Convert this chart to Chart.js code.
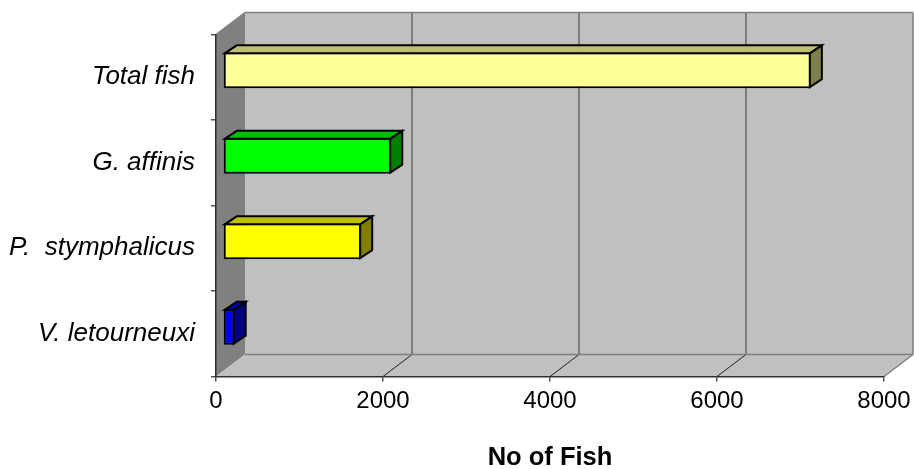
<!DOCTYPE html>
<html>
<head>
<meta charset="utf-8">
<style>
  html, body { margin: 0; padding: 0; background: #ffffff; }
  canvas { display: block; }
</style>
<script src="https://cdn.jsdelivr.net/npm/chart.js@4/dist/chart.umd.min.js"></script>
</head>
<body>
<canvas id="fishChart" width="914" height="469"></canvas>
<script>
const categories = ['Total fish', 'G. affinis', 'P.  stymphalicus', 'V. letourneuxi'];
const fishCounts = [7040, 2015, 1655, 140];
const xTickValues = [0, 2000, 4000, 6000, 8000];

const frontColors = ['#FFFF99', '#00FF00', '#FFFF00', '#0000FF'];
const topColors = ['#BFBF73', '#00BF00', '#BFBF00', '#0000BF'];
const sideColors = ['#80804D', '#008000', '#808000', '#000080'];

// depth of the box behind the front plane, and of each bar
const WALL_DX = 29;
const WALL_DY = 22;
const BAR_SHIFT_X = 7;
const BAR_SHIFT_Y = -7;
const BAR_DX = 12;
const BAR_DY = 8;
const BAR_LINE = 2;

function poly(ctx, pts, fill, stroke, lineWidth) {
    ctx.beginPath();
    pts.forEach((p, i) => i ? ctx.lineTo(p[0], p[1]) : ctx.moveTo(p[0], p[1]));
    ctx.closePath();
    if (fill) {
        ctx.fillStyle = fill;
        ctx.fill();
    }
    if (stroke) {
        ctx.strokeStyle = stroke;
        ctx.lineWidth = lineWidth;
        ctx.stroke();
    }
}

function line(ctx, x1, y1, x2, y2, color, width) {
    ctx.beginPath();
    ctx.moveTo(x1, y1);
    ctx.lineTo(x2, y2);
    ctx.strokeStyle = color;
    ctx.lineWidth = width;
    ctx.stroke();
}

// back wall, side wall and floor of the box
const boxPlugin = {
    id: 'box',
    beforeDraw(chart) {
        const { ctx, scales } = chart;
        const l = scales.x.left, r = scales.x.right, t = scales.y.top, b = scales.y.bottom;
        const dx = WALL_DX, dy = WALL_DY;
        ctx.save();
        poly(ctx, [[l + dx, t - dy], [r + dx, t - dy], [r + dx, b - dy], [l + dx, b - dy]], '#C0C0C0');
        poly(ctx, [[l, t], [l + dx, t - dy], [l + dx, b - dy], [l, b]], '#808080');
        poly(ctx, [[l, b], [l + dx, b - dy], [r + dx, b - dy], [r, b]], '#C0C0C0');

        xTickValues.forEach((v, i) => {
            const x = scales.x.getPixelForValue(v);
            if (i > 0 && i < xTickValues.length - 1) {
                line(ctx, x + dx, t - dy, x + dx, b - dy, '#666666', 1.5);
                line(ctx, x, b, x + dx, b - dy, '#202020', 1);
            }
        });
        // outer edges of the box
        line(ctx, l, t, l + dx, t - dy, '#808080', 1.5);
        line(ctx, l + dx, t - dy, r + dx, t - dy, '#808080', 1.5);
        line(ctx, r + dx, t - dy, r + dx, b - dy, '#808080', 1.5);
        line(ctx, l + dx, b - dy, r + dx, b - dy, '#808080', 1.5);
        line(ctx, r, b, r + dx, b - dy, '#808080', 1.5);
        ctx.restore();
    }
};

// bars sit a little behind the front plane, with a top and a side face
const barDepthPlugin = {
    id: 'barDepth',
    beforeDatasetDraw(chart) {
        chart.ctx.save();
        chart.ctx.translate(BAR_SHIFT_X, BAR_SHIFT_Y);
    },
    afterDatasetDraw(chart, args) {
        const ctx = chart.ctx;
        const inset = BAR_LINE / 2;
        ctx.lineJoin = 'miter';
        args.meta.data.forEach((bar, i) => {
            const x0 = bar.base + inset, x1 = bar.x - inset;
            const y0 = bar.y - bar.height / 2 + inset, y1 = bar.y + bar.height / 2 - inset;
            poly(ctx, [[x0, y0], [x0 + BAR_DX, y0 - BAR_DY], [x1 + BAR_DX, y0 - BAR_DY], [x1, y0]], topColors[i], '#000000', BAR_LINE);
            poly(ctx, [[x1, y0], [x1 + BAR_DX, y0 - BAR_DY], [x1 + BAR_DX, y1 - BAR_DY], [x1, y1]], sideColors[i], '#000000', BAR_LINE);
        });
        ctx.restore();
    }
};

new Chart(document.getElementById('fishChart'), {
    type: 'bar',
    data: {
        labels: categories,
        datasets: [{
            data: fishCounts,
            backgroundColor: frontColors,
            borderColor: '#000000',
            borderWidth: BAR_LINE,
            borderSkipped: false,
            barPercentage: 0.42,
            categoryPercentage: 1,
            clip: false
        }]
    },
    plugins: [boxPlugin, barDepthPlugin],
    options: {
        indexAxis: 'y',
        responsive: false,
        animation: false,
        layout: { padding: { top: 34.5, right: 30, left: 0, bottom: 0 } },
        plugins: {
            legend: { display: false },
            tooltip: { enabled: false }
        },
        scales: {
            x: {
                min: 0,
                max: 8000,
                afterFit(scale) {
                    scale.height = 92.5;
                    scale.paddingRight = 0;
                },
                afterBuildTicks(scale) { scale.ticks = xTickValues.map(v => ({ value: v })); },
                border: { color: '#303030', width: 1.5 },
                grid: { drawOnChartArea: false, tickLength: 5, color: '#505050', lineWidth: 1.5 },
                ticks: {
                    color: '#000000',
                    maxRotation: 0,
                    padding: 5,
                    font: { family: '"Liberation Sans", Arial, sans-serif', size: 24 },
                    callback: v => String(v)
                },
                title: {
                    display: true,
                    text: 'No of Fish',
                    color: '#000000',
                    padding: { top: 15, bottom: 0 },
                    font: { family: '"Liberation Sans", Arial, sans-serif', size: 25.5, weight: 'bold', lineHeight: 0.85 }
                }
            },
            y: {
                afterFit(scale) { scale.width = 216; },
                border: { color: '#303030', width: 1.5 },
                grid: { drawOnChartArea: false, tickLength: 5, color: '#505050', lineWidth: 1.5 },
                ticks: {
                    color: '#000000',
                    padding: 16,
                    font: { family: '"Liberation Sans", Arial, sans-serif', size: 26, style: 'italic' }
                }
            }
        }
    }
});
</script>
</body>
</html>
